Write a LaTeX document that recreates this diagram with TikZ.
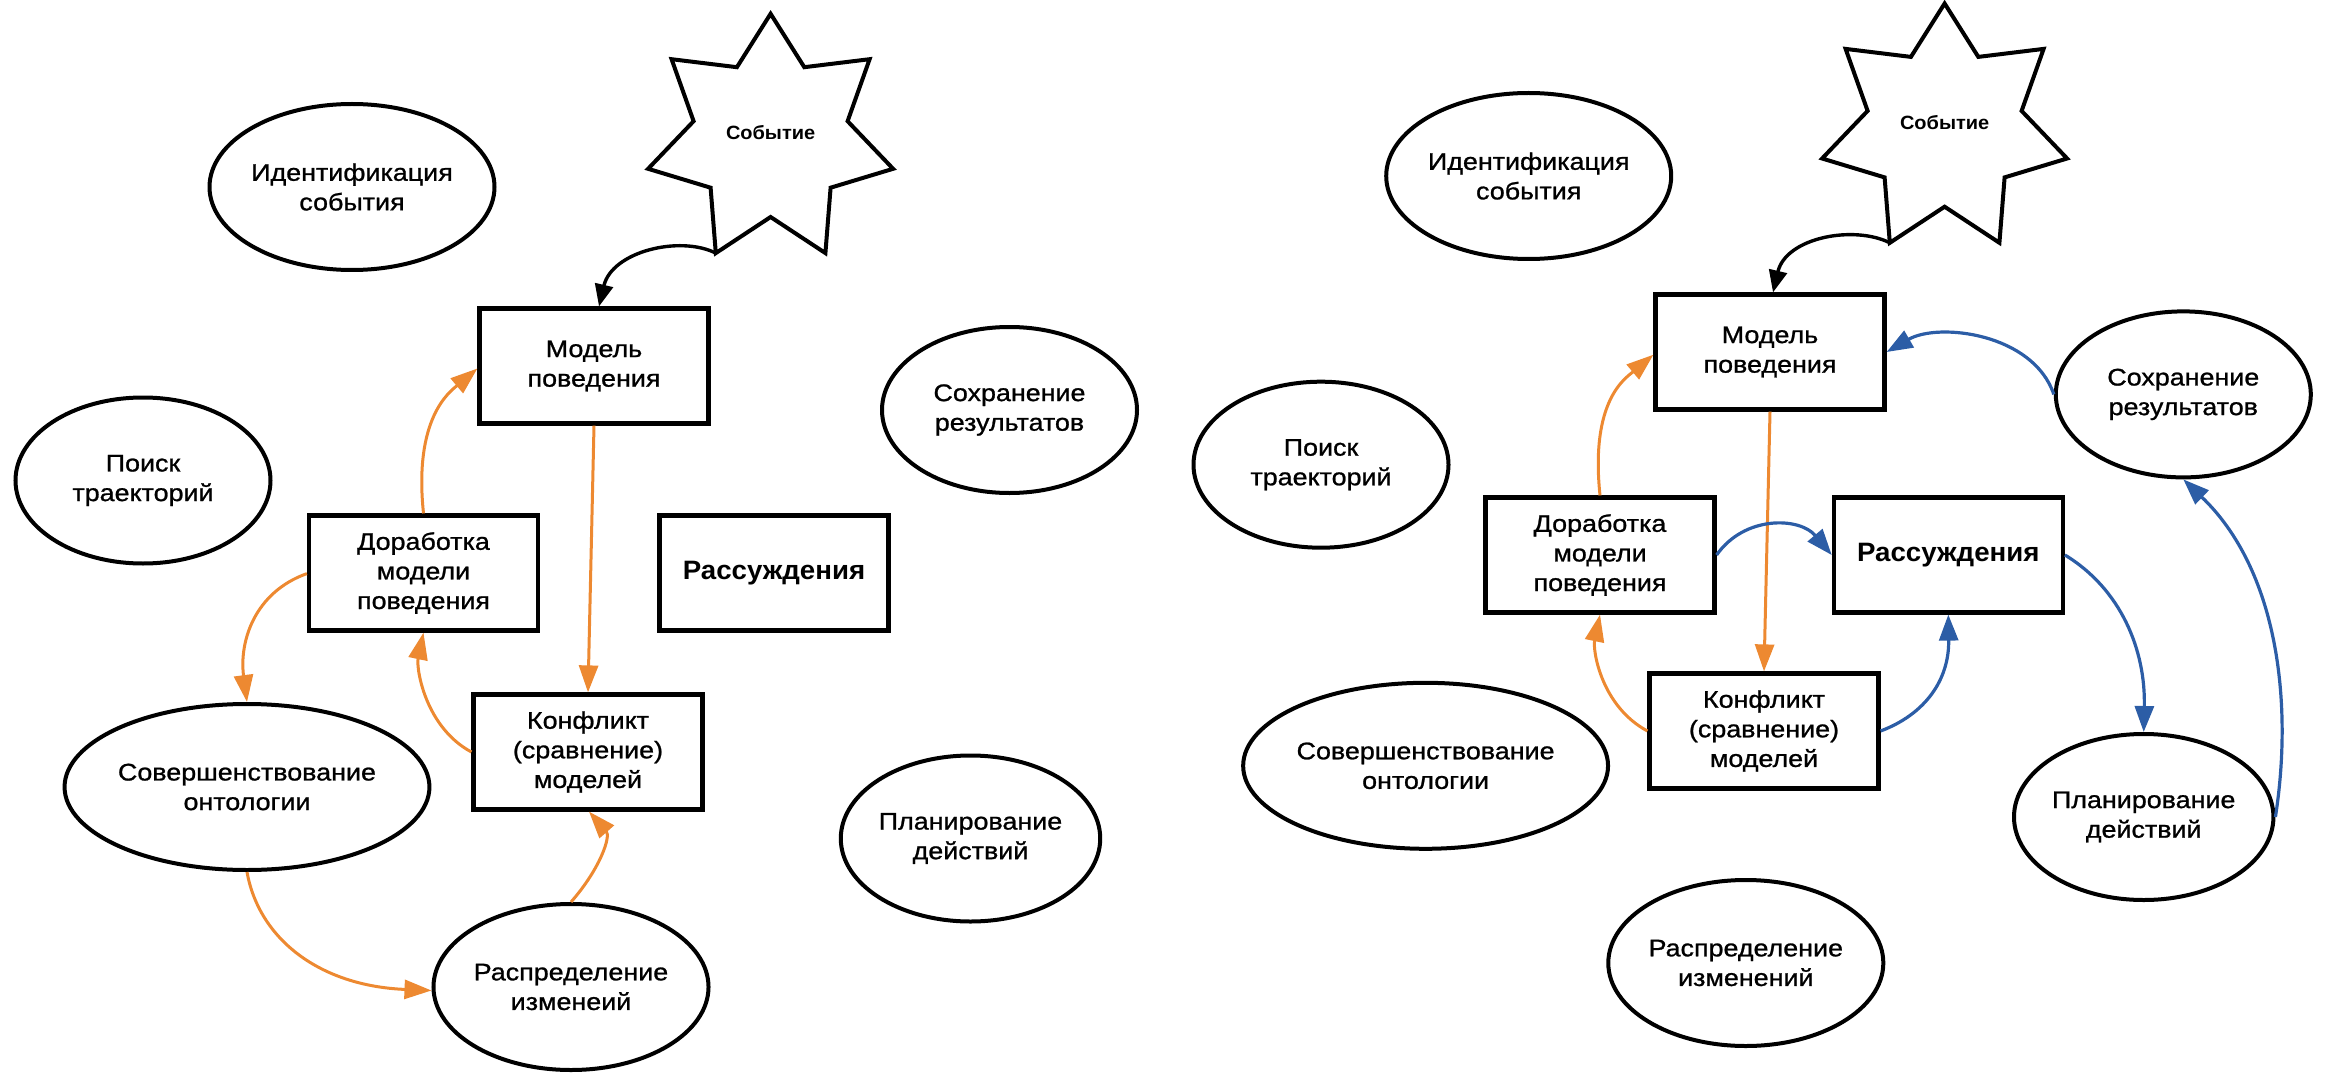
\documentclass[tikz,border=0pt]{standalone}
\usepackage{fontspec}
\setmainfont{Liberation Sans}[FakeStretch=1.12,UprightFeatures={FakeBold=1},BoldFeatures={FakeStretch=1.04}]
\usetikzlibrary{shapes.geometric,arrows.meta,calc}
\definecolor{linkorange}{RGB}{237,137,49}
\definecolor{linkblue}{RGB}{44,93,166}
\begin{document}
\begin{tikzpicture}[x=0.5pt,y=-0.5pt,
  lbl/.style={font=\fontsize{12pt}{14.8pt}\selectfont, align=center},
  ell/.style={lbl, draw, ellipse, line width=2pt, minimum width=127.5pt, minimum height=83pt, inner sep=0pt},
  wideell/.style={ell, minimum width=163pt},
  box/.style={lbl, draw, rectangle, line width=2.1pt, minimum width=114.5pt, minimum height=57.5pt, inner sep=0pt},
  boldbox/.style={box, font=\fontsize{13.3pt}{16pt}\selectfont\bfseries},
  eventlbl/.style={font=\fontsize{9.6pt}{11pt}\selectfont\bfseries, inner sep=0pt},
  oarr/.style={draw=linkorange, line width=1.5pt, -{Triangle[length=13.5pt,width=9.5pt]}},
  barr/.style={draw=linkblue, line width=1.6pt, -{Triangle[length=13pt,width=9.5pt]}},
  karr/.style={draw=black, line width=1.7pt, -{Triangle[length=11pt,width=9pt]}},
  sevenstar/.pic={
    \draw[line width=2pt] (0,-119.7) -- (33.7,-66.3) -- (99,-74.3) -- (77,-12.3)
      -- (122.5,35.3) -- (60,54.2) -- (54.8,119.6) -- (0,83.5) -- (-54.8,119.6)
      -- (-60,54.2) -- (-122.5,35.3) -- (-77,-12.3) -- (-99,-74.3) -- (-33.7,-66.3) -- cycle;
    \coordinate (-sb) at (-54.8,119.6);
  }
]
\path[use as bounding box] (0,0) rectangle (2328,1075);

% ---------- left scheme ----------
\pic (Ls) at (770.6,133.5) {sevenstar};
\node[eventlbl] (Lev) at (770.6,133) {Событие};
\node[ell] (Lident) at (352,187) {Идентификация\\события};
\node[ell] (Lpoisk) at (143,480.5) {Поиск\\траекторий};
\node[box] (Lmodel) at (594,366) {Модель\\поведения};
\node[box] (Ldorab) at (423.5,573) {Доработка\\модели\\поведения};
\node[boldbox] (Lras) at (774,573) {Рассуждения};
\node[box] (Lkonf) at (588,752) {Конфликт\\(сравнение)\\моделей};
\node[wideell] (Lsover) at (247,787) {Совершенствование\\онтологии};
\node[ell] (Lraspr) at (571,987) {Распределение\\изменеий};
\node[ell] (Lsokhr) at (1009.5,410) {Сохранение\\результатов};
\node[ell] (Lplan) at (970.5,838.5) {Планирование\\действий};

\draw[karr] (Ls-sb) .. controls +(-36,-18) and +(13,-55) .. ($(Lmodel.north)+(5,0)$);
\draw[oarr] (Ldorab.north) .. controls +(-10,-95) and +(-28,23.5) .. ($(Lmodel.west)+(0,2.5)$);
\draw[oarr] ($(Ldorab.west)+(0,0.6)$) .. controls +(-52,18.5) and +(-8,-61) .. (Lsover.north);
\draw[oarr] (Lsover.south) .. controls +(12,67) and +(-112,-4.6) .. ($(Lraspr.west)+(0,3.5)$);
\draw[oarr] (Lkonf.west) .. controls +(-46,-24.7) and +(-7.5,36) .. (Ldorab.south);
\draw[oarr] (Lraspr.north) .. controls +(29,-33) and +(22,25) .. ($(Lkonf.south)+(1,0)$);
\draw[oarr] (Lmodel.south) -- (Lkonf.north);

% ---------- right scheme ----------
\pic (Rs) at (1944.6,123.2) {sevenstar};
\node[eventlbl] (Rev) at (1944.6,122.5) {Событие};
\node[ell] (Rident) at (1528.7,176) {Идентификация\\события};
\node[ell] (Rpoisk) at (1321,464.7) {Поиск\\траекторий};
\node[box] (Rmodel) at (1770,352) {Модель\\поведения};
\node[box] (Rdorab) at (1600,555) {Доработка\\модели\\поведения};
\node[boldbox] (Rras) at (1948.3,555) {Рассуждения};
\node[box] (Rkonf) at (1764,731) {Конфликт\\(сравнение)\\моделей};
\node[wideell] (Rsover) at (1425.6,765.8) {Совершенствование\\онтологии};
\node[ell] (Rraspr) at (1745.8,963) {Распределение\\изменений};
\node[ell] (Rsokhr) at (2183.3,394.4) {Сохранение\\результатов};
\node[ell] (Rplan) at (2143.7,817) {Планирование\\действий};

\draw[karr] (Rs-sb) .. controls +(-36,-18) and +(13,-55) .. ($(Rmodel.north)+(3,0)$);
\draw[oarr] (Rdorab.north) .. controls +(-10,-95) and +(-28,23.5) .. ($(Rmodel.west)+(0,2.7)$);
\draw[oarr] (Rmodel.south) -- (Rkonf.north);
\draw[oarr] (Rkonf.west) .. controls +(-46,-24.7) and +(-7.5,36) .. (Rdorab.south);
\draw[barr] (Rsokhr.west) .. controls +(-20.5,-61) and +(52,-30) .. (Rmodel.east);
\draw[barr] (Rdorab.east) .. controls +(28,-40) and +(-32,-38) .. (Rras.west);
\draw[barr] (Rras.east) .. controls +(56,34) and +(2,-82) .. (Rplan.north);
\draw[barr] (Rplan.east) .. controls +(18,-116) and +(94,90) .. (Rsokhr.south);
\draw[barr] (Rkonf.east) .. controls +(45,-17) and +(1,65) .. (Rras.south);
\end{tikzpicture}
\end{document}
